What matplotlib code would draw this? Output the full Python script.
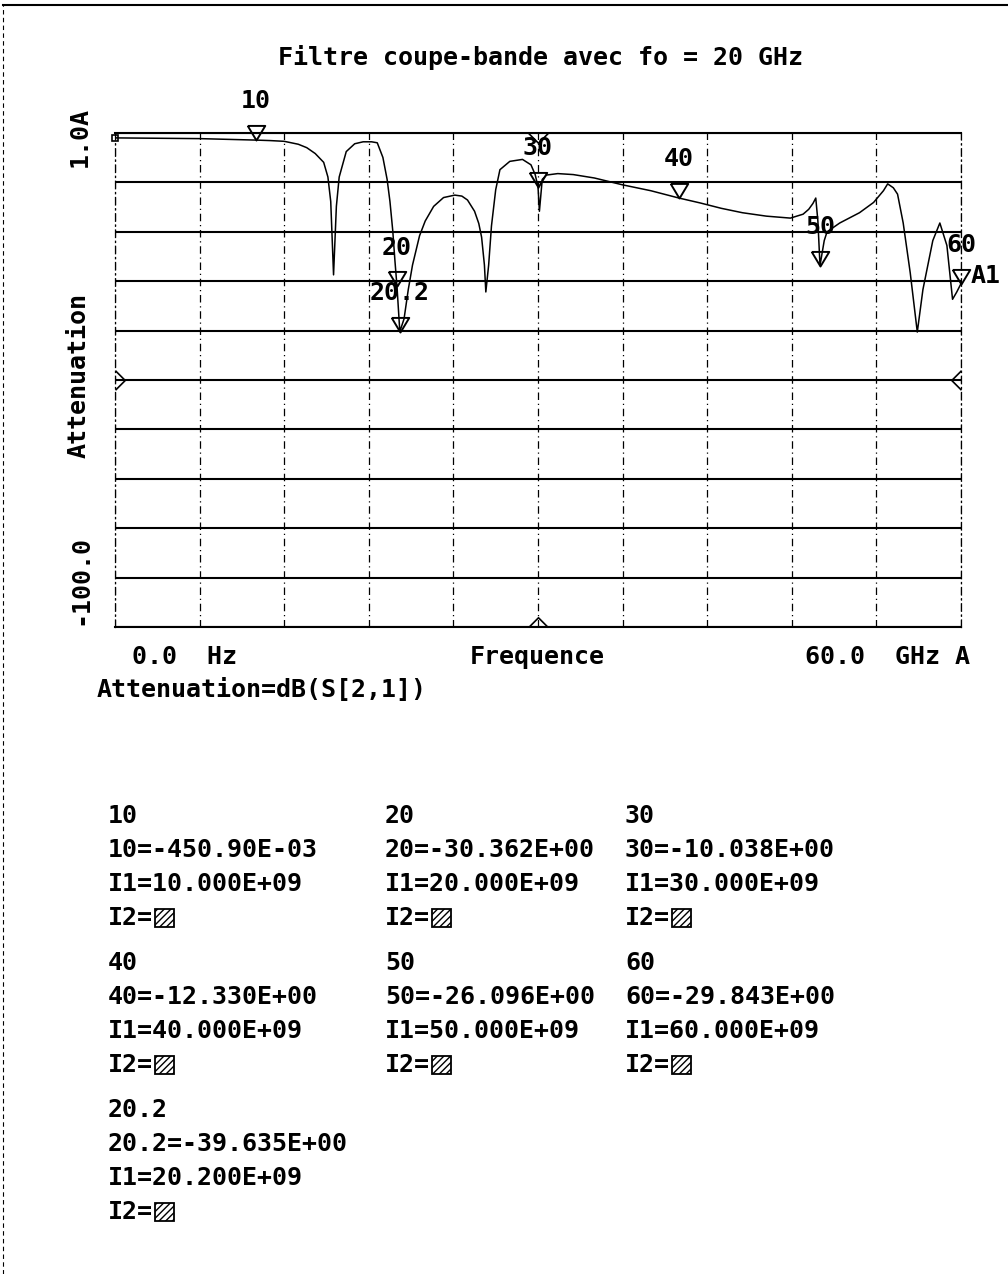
import matplotlib.pyplot as plt
import numpy as np
from matplotlib.path import Path
from matplotlib.patches import Rectangle
from matplotlib.lines import Line2D

W, H = 1008, 1274
FONT = 'DejaVu Sans Mono'
FS = 18

# S21 trace of the band-stop filter (GHz, dB)
freq_ghz = [0.0, 2.0, 4.0, 6.0, 8.0, 10.0, 11.0, 12.0, 13.0, 13.6, 14.2, 14.8,
            15.1, 15.3, 15.5, 15.7, 15.9, 16.4, 17.0, 17.6, 18.2, 18.6, 19.0,
            19.3, 19.5, 19.7, 19.85, 20.0, 20.2, 20.5, 20.8, 21.1, 21.6, 22.0,
            22.6, 23.3, 24.1, 24.6, 25.0, 25.5, 25.8, 26.0, 26.2, 26.3, 26.5,
            26.7, 27.0, 27.3, 28.0, 28.9, 29.5, 29.8, 30.0, 30.1, 30.3, 30.6,
            31.4, 32.5, 34.0, 36.0, 38.0, 40.0, 41.5, 43.0, 44.5, 46.2, 47.9,
            48.8, 49.2, 49.5, 49.7, 49.85, 50.0, 50.3, 50.5, 51.4, 52.8, 53.8,
            54.5, 54.8, 55.2, 55.5, 55.9, 56.4, 56.9, 57.3, 58.0, 58.5, 59.0,
            59.4, 59.7, 60.0]
atten_db = [0.0, -0.05, -0.1, -0.15, -0.3, -0.45, -0.55, -0.7, -1.3, -2.0, -3.2, -5.0,
            -8.0, -13.0, -28.0, -14.0, -8.0, -2.8, -1.2, -0.8, -0.8, -1.0, -4.0,
            -8.5, -13.0, -19.0, -25.0, -30.4, -39.6, -37.0, -31.0, -26.0, -20.0, -17.0,
            -14.0, -12.2, -11.7, -11.9, -12.7, -15.0, -17.5, -20.3, -26.0, -31.5, -26.0,
            -18.0, -10.6, -6.5, -4.8, -4.4, -5.5, -7.5, -10.0, -15.0, -8.5, -7.6,
            -7.3, -7.5, -8.2, -9.6, -10.8, -12.3, -13.3, -14.4, -15.3, -16.0, -16.4,
            -15.6, -14.6, -13.4, -12.3, -17.0, -26.1, -21.0, -19.2, -17.4, -15.3, -13.2,
            -10.8, -9.4, -10.2, -11.5, -17.4, -27.6, -39.7, -31.0, -21.0, -17.4, -22.0,
            -33.0, -31.5, -29.8]

# markers
marker_names = ['10', '20', '30', '40', '50', '60', '20.2']
marker_freq = [10.0, 20.0, 30.0, 40.0, 50.0, 60.0, 20.2]
marker_db = [-0.4509, -30.362, -10.038, -12.330, -26.096, -29.843, -39.635]
marker_val_txt = ['-450.90E-03', '-30.362E+00', '-10.038E+00', '-12.330E+00',
                  '-26.096E+00', '-29.843E+00', '-39.635E+00']
marker_i1_txt = ['10.000E+09', '20.000E+09', '30.000E+09', '40.000E+09',
                 '50.000E+09', '60.000E+09', '20.200E+09']


def fxy(x, y):
    return x / W, 1 - y / H


def label(x, y, s, **kw):
    opts = dict(fontsize=FS, family=FONT, weight='bold', va='center', ha='left')
    opts.update(kw)
    fig.text(*fxy(x, y), s, **opts)


fig = plt.figure(figsize=(W / 100, H / 100), dpi=100)

# frame lines of the sheet
fig.add_artist(Line2D([3 / W, 1], [1 - 5 / H] * 2, color='k', lw=1.5))
fig.add_artist(Line2D([3 / W] * 2, [0, 1 - 5 / H], color='k', lw=0.8, ls=(0, (4, 3))))

# -----------------------------
# PLOT AREA
# -----------------------------
ax = fig.add_axes([115 / W, 1 - 627 / H, 846 / W, 494 / H])
ax.set_xlim(0, 60)
ax.set_ylim(-100, 1.0)
ax.set_yticks(np.linspace(-100, 1.0, 11))
ax.set_xticks(np.arange(0, 61, 6))
ax.tick_params(length=0, labelleft=False, labelbottom=False)
ax.grid(axis='y', color='k', lw=1.5)
ax.grid(axis='x', color='k', lw=0.9, ls=(0, (6, 3, 1, 3)))
for side in ['top', 'bottom']:
    ax.spines[side].set_linewidth(1.5)
for side in ['left', 'right']:
    ax.spines[side].set_linewidth(0.9)
    ax.spines[side].set_linestyle((0, (6, 3, 1, 3)))

ax.plot(freq_ghz, atten_db, color='k', lw=1.1)
ax.plot([0], [0], marker='s', ms=5, mfc='none', mec='k', mew=1.2, clip_on=False)

# reference chevrons on the frame
chev_l = Path([(0, 1), (1, 0), (0, -1)], [Path.MOVETO, Path.LINETO, Path.LINETO])
chev_r = Path([(0, 1), (-1, 0), (0, -1)], [Path.MOVETO, Path.LINETO, Path.LINETO])
chev_t = Path([(-1, 0), (0, -1), (1, 0)], [Path.MOVETO, Path.LINETO, Path.LINETO])
chev_b = Path([(-1, 0), (0, 1), (1, 0)], [Path.MOVETO, Path.LINETO, Path.LINETO])
for pos, mk in [((0, 0.5), chev_l), ((1, 0.5), chev_r), ((0.5, 1), chev_t), ((0.5, 0), chev_b)]:
    ax.plot(*pos, marker=mk, ms=14, mfc='none', mec='k', mew=1.2,
            transform=ax.transAxes, clip_on=False)

# marker triangles with their names
tri = [(-0.6, 1), (0.6, 1), (0, 0), (-0.6, 1)]
for name, f, v in zip(marker_names, marker_freq, marker_db):
    ax.plot(f, v, marker=tri, ms=21, mfc='none', mec='k', mew=1.4, clip_on=False)
    ax.annotate(name, (f, v), xytext=(0, 28), textcoords='offset points',
                ha='center', va='center', fontsize=FS, family=FONT, weight='bold')
ax.annotate('A1', (marker_freq[5], marker_db[5]), xytext=(7, 6), textcoords='offset points',
            ha='left', va='center', fontsize=FS, family=FONT, weight='bold',
            annotation_clip=False)

# -----------------------------
# AXIS TEXTS
# -----------------------------
label(540, 57, 'Filtre coupe-bande avec fo = 20 GHz', ha='center')
label(80, 137, '1.0A', ha='center', rotation=90)
label(79, 375, 'Attenuation', ha='center', rotation=90)
label(80, 580, '-100.0', ha='center', rotation=90)
label(132, 657, '0.0  Hz')
label(537, 657, 'Frequence', ha='center')
label(805, 657, '60.0  GHz A')
label(97, 690, 'Attenuation=dB(S[2,1])')

# -----------------------------
# MARKER TABLE
# -----------------------------
col_x = [108, 385, 625]
block_y = [816, 963, 1110]
row_step = 34
for i, name in enumerate(marker_names):
    x = col_x[i % 3]
    y = block_y[i // 3]
    label(x, y, name)
    label(x, y + row_step, f'{name}={marker_val_txt[i]}')
    label(x, y + 2 * row_step, f'I1={marker_i1_txt[i]}')
    label(x, y + 3 * row_step, 'I2=')
    bx, by = fxy(x + 47, y + 3 * row_step + 9)
    fig.add_artist(Rectangle((bx, by), 19 / W, 18 / H, transform=fig.transFigure,
                             facecolor='white', edgecolor='k', lw=1.3, hatch='/////'))

fig.savefig('out.png', dpi=100)
